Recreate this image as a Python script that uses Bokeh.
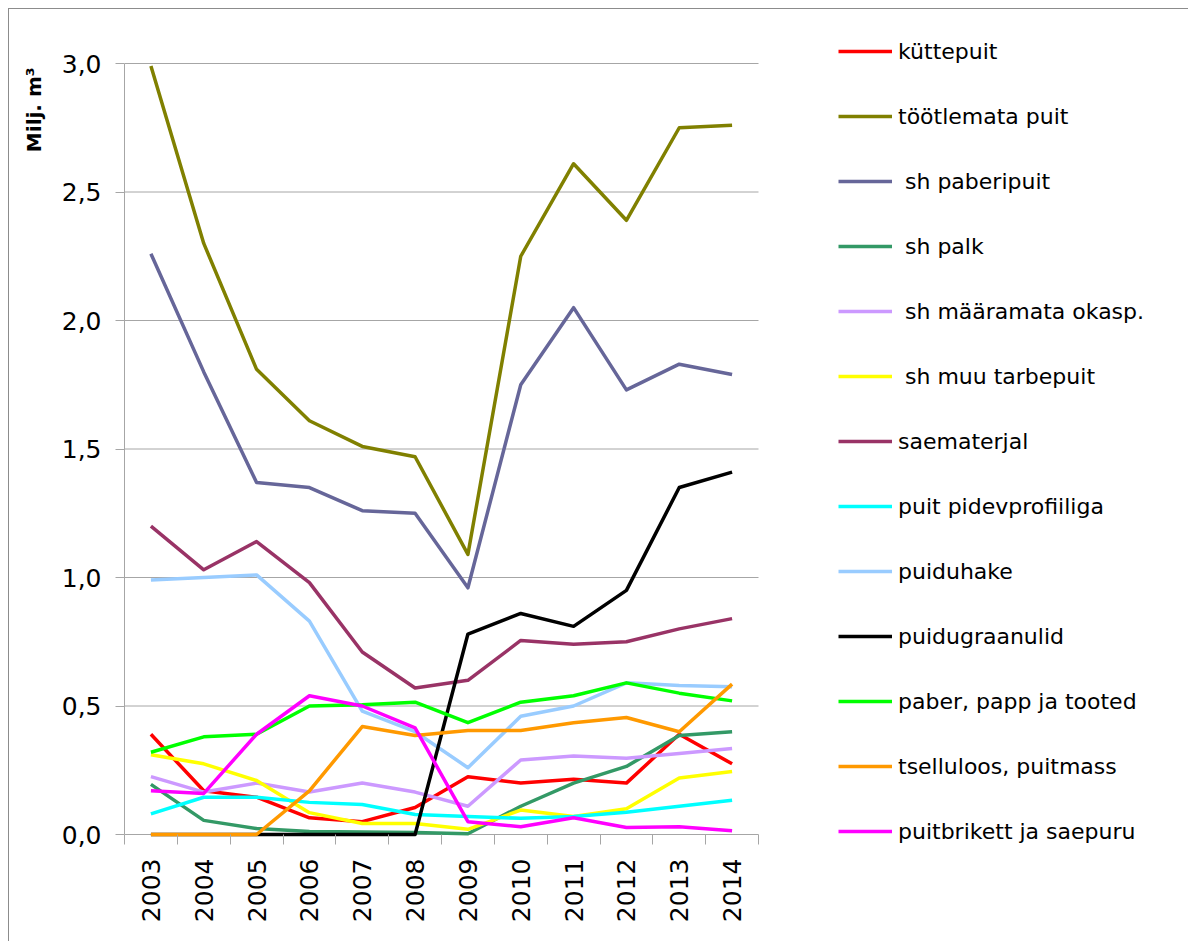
import math
from bokeh.plotting import figure
from bokeh.models import Range1d, FixedTicker, Legend, LegendItem, Title
from bokeh.embed import file_html
from bokeh.resources import INLINE

years = list(range(2003, 2015))

names = ["küttepuit", "töötlemata puit", " sh paberipuit", " sh palk",
         " sh määramata okasp.", " sh muu tarbepuit", "saematerjal",
         "puit pidevprofiiliga", "puiduhake", "puidugraanulid",
         "paber, papp ja tooted", "tselluloos, puitmass", "puitbrikett ja saepuru"]

kyttepuit = [0.39, 0.17, 0.145, 0.065, 0.05, 0.105, 0.225, 0.20, 0.215, 0.20, 0.39, 0.275]
tootlemata = [2.99, 2.30, 1.81, 1.61, 1.51, 1.47, 1.09, 2.25, 2.61, 2.39, 2.75, 2.76]
paberipuit = [2.26, 1.80, 1.37, 1.35, 1.26, 1.25, 0.96, 1.75, 2.05, 1.73, 1.83, 1.79]
palk = [0.195, 0.055, 0.023, 0.012, 0.010, 0.008, 0.003, 0.11, 0.20, 0.265, 0.385, 0.40]
maaramata = [0.225, 0.165, 0.20, 0.165, 0.20, 0.165, 0.11, 0.29, 0.305, 0.297, 0.315, 0.335]
muu_tarbepuit = [0.31, 0.275, 0.21, 0.085, 0.043, 0.043, 0.02, 0.095, 0.07, 0.10, 0.22, 0.245]
saematerjal = [1.20, 1.03, 1.14, 0.98, 0.71, 0.57, 0.60, 0.755, 0.74, 0.75, 0.80, 0.84]
pidevprofiil = [0.08, 0.145, 0.145, 0.125, 0.117, 0.078, 0.07, 0.063, 0.07, 0.087, 0.11, 0.133]
puiduhake = [0.99, 1.00, 1.01, 0.83, 0.48, 0.40, 0.26, 0.46, 0.50, 0.59, 0.58, 0.575]
graanulid = [0.0, 0.0, 0.0, 0.0, 0.0, 0.0, 0.78, 0.86, 0.81, 0.95, 1.35, 1.41]
paber = [0.32, 0.38, 0.39, 0.50, 0.505, 0.515, 0.435, 0.515, 0.54, 0.59, 0.55, 0.52]
tselluloos = [0.0, 0.0, 0.0, 0.17, 0.42, 0.385, 0.405, 0.405, 0.435, 0.455, 0.40, 0.585]
brikett = [0.17, 0.16, 0.39, 0.54, 0.50, 0.415, 0.05, 0.03, 0.065, 0.027, 0.03, 0.015]

series = [kyttepuit, tootlemata, paberipuit, palk, maaramata, muu_tarbepuit,
          saematerjal, pidevprofiil, puiduhake, graanulid, paber, tselluloos, brikett]
colors = ["#FF0000", "#808000", "#666699", "#339966", "#CC99FF", "#FFFF00",
          "#993366", "#00FFFF", "#99CCFF", "#000000", "#00FF00", "#FF9900", "#FF00FF"]

y_ticks = [0.0, 0.5, 1.0, 1.5, 2.0, 2.5, 3.0]
y_labels = ["0,0", "0,5", "1,0", "1,5", "2,0", "2,5", "3,0"]

FONT = "DejaVu Sans"
GRAY = "#A6A6A6"
LW = 3.5

# layout geometry (pixels on the canvas)
W, H = 1180, 933
LEFT = 115
PLOT_W = 634            # width of the 12 category slots
ZERO_Y = 825            # canvas y of value 0
TICK = 10               # category tick length below the zero line
PX_PER_UNIT = 257       # pixels per 1.0 on the value axis
frame_w = W - LEFT
frame_bottom = ZERO_Y + TICK
BOTTOM = H - frame_bottom
x0 = years[0] - 0.5
x1 = x0 + frame_w / (PLOT_W / len(years))
y1 = ZERO_Y / PX_PER_UNIT
y0 = -TICK / PX_PER_UNIT

p = figure(width=W, height=H, output_backend="svg", toolbar_location=None,
           x_range=Range1d(x0, x1), y_range=Range1d(y0, y1),
           min_border_left=LEFT, min_border_right=0, min_border_top=0, min_border_bottom=BOTTOM,
           background_fill_color="white", border_fill_color="white",
           styles={"margin-left": "8px", "margin-top": "8px",
                   "border-left": "1px solid #8C8C8C", "border-top": "1px solid #8C8C8C"})
p.outline_line_color = None
p.xgrid.visible = False
p.ygrid.visible = False

# horizontal gridlines (incl. the zero line) limited to the category area
p.segment(x0=[years[0] - 0.5] * len(y_ticks), y0=y_ticks,
          x1=[years[-1] + 0.5] * len(y_ticks), y1=y_ticks,
          line_color=GRAY, line_width=1)

items = []
for name, vals, col in zip(names, series, colors):
    r = p.line(years, vals, line_color=col, line_width=LW, line_join="round")
    items.append(LegendItem(label=name, renderers=[r]))

# x axis at the frame bottom; its ticks reach up to the zero line
xa = p.xaxis[0]
xa.bounds = (years[0] - 0.5, years[-1] + 0.5)
xa.ticker = FixedTicker(ticks=years, minor_ticks=[y - 0.5 for y in years] + [years[-1] + 0.5])
xa.major_label_overrides = {y: str(y) for y in years}
xa.major_tick_line_color = None
xa.minor_tick_line_color = GRAY
xa.minor_tick_out = 0
xa.minor_tick_in = TICK
xa.axis_line_color = None
xa.major_label_orientation = math.pi / 2
xa.major_label_text_font = FONT
xa.major_label_text_font_size = "25px"
xa.major_label_text_color = "black"
xa.major_label_standoff = 8

# y axis
ya = p.yaxis[0]
ya.bounds = (0, 3.0)
ya.ticker = FixedTicker(ticks=y_ticks)
ya.major_label_overrides = {t: l for t, l in zip(y_ticks, y_labels)}
ya.major_tick_line_color = GRAY
ya.major_tick_out = 9
ya.major_tick_in = 0
ya.minor_tick_line_color = None
ya.axis_line_color = GRAY
ya.major_label_text_font = FONT
ya.major_label_text_font_size = "25px"
ya.major_label_text_color = "black"
ya.major_label_standoff = 14

# axis title near the top of the value axis
p.add_layout(Title(text="Milj. m³", align="right", vertical_align="top",
                   offset=58, standoff=22, text_font=FONT, text_font_size="20px",
                   text_font_style="bold", text_color="black"), "left")

# legend: items 26 px high, 39 px apart; top of the block at canvas y = 29
n = len(names)
leg_h = n * 26 + (n - 1) * 39
legend = Legend(items=items, location=(829 - LEFT, frame_bottom - (29 + leg_h)),
                orientation="vertical",
                glyph_width=54, glyph_height=26, label_height=26, spacing=39,
                label_standoff=6, padding=0, margin=0,
                label_text_font=FONT, label_text_font_size="22px", label_text_color="black",
                border_line_color=None, background_fill_alpha=0)
p.add_layout(legend, "center")

open("out.html", "w").write(file_html(p, INLINE))
